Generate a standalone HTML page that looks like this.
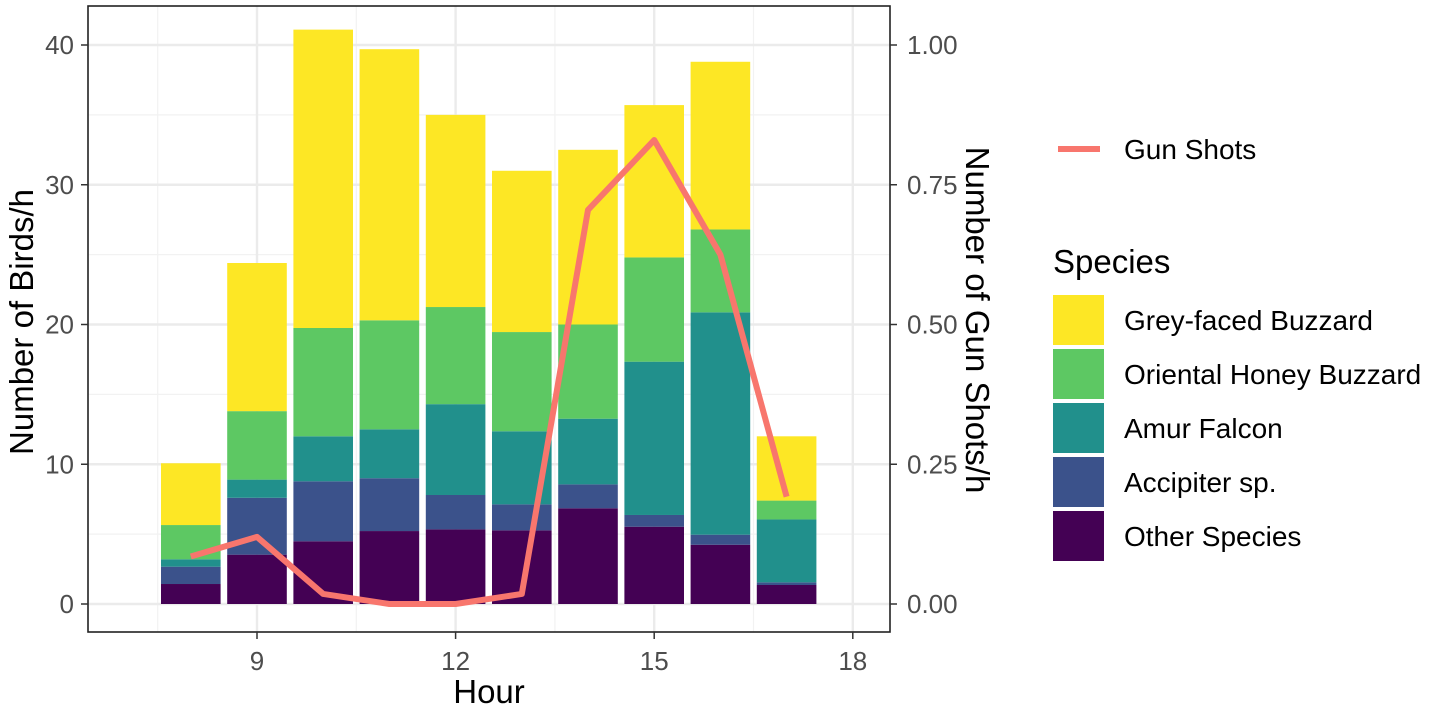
<!DOCTYPE html>
<html><head><meta charset="utf-8"><style>
body{margin:0;background:#fff;}
svg{display:block;font-family:"Liberation Sans",Arial,sans-serif;}
</style></head><body>
<svg id="chart" width="1450" height="710" viewBox="0 0 1450 710">
<g id="grid"></g>
<g id="bars"></g>
<g id="line"></g>
<rect x="88" y="6" width="802" height="626" fill="none" stroke="#222" stroke-width="1.6"/>
<g id="axes"></g>
<text x="489" y="703" font-size="33" text-anchor="middle" fill="#000">Hour</text>
<text transform="translate(33,322) rotate(-90)" font-size="33" text-anchor="middle" fill="#000">Number of Birds/h</text>
<text transform="translate(966,320) rotate(90)" font-size="33" text-anchor="middle" fill="#000">Number of Gun Shots/h</text>
<g>
<line x1="1058" y1="149" x2="1100" y2="149" stroke="#F8766D" stroke-width="6"/>
<text x="1124" y="159" font-size="28">Gun Shots</text>
<text x="1053" y="273" font-size="33">Species</text>
<g id="legend-keys"></g>
</g>
</svg>
<script>
const hours=[8,9,10,11,12,13,14,15,16,17];
const otherSpecies=[1.43,3.53,4.49,5.22,5.34,5.27,6.85,5.53,4.24,1.36];
const accipiter=[1.24,4.07,4.29,3.78,2.46,1.86,1.71,0.84,0.72,0.19];
const amurFalcon=[0.53,1.3,3.22,3.5,6.5,5.23,4.7,10.97,15.91,4.5];
const honeyBuzzard=[2.45,4.9,7.75,7.8,6.95,7.1,6.74,7.46,5.93,1.35];
const greyBuzzard=[4.42,10.6,21.35,19.4,13.75,11.54,12.5,10.9,12.0,4.6];
const gunShots=[0.085,0.12,0.018,0,0,0.018,0.705,0.83,0.625,0.192];
const yTicks=[0,10,20,30,40];
const y2Ticks=["0.00","0.25","0.50","0.75","1.00"];
const xTicks=[9,12,15,18];
const seriesNames=["Other Species","Accipiter sp.","Amur Falcon","Oriental Honey Buzzard","Grey-faced Buzzard"];
const colors=["#440154","#3B528B","#21908C","#5DC863","#FDE725"];
const NS="http://www.w3.org/2000/svg";
const X=h=>257+(h-9)*66.2;
const Y=v=>604-v*13.975;
const Y2=v=>604-v*559;
function mk(tag,attrs,parent){const e=document.createElementNS(NS,tag);for(const k in attrs)e.setAttribute(k,attrs[k]);parent.appendChild(e);return e;}
const grid=document.getElementById('grid');
for(let v=5;v<=40;v+=10){const g=mk('line',{x1:88,x2:890,y1:Y(v),y2:Y(v),stroke:'#f2f2f2','stroke-width':1.2},grid);

}
for(let h=7.5;h<=18;h+=3){const g=mk('line',{x1:X(h),x2:X(h),y1:6,y2:632,stroke:'#f2f2f2','stroke-width':1.2},grid);

}
yTicks.forEach(v=>{const g=mk('line',{x1:88,x2:890,y1:Y(v),y2:Y(v),stroke:'#ebebeb','stroke-width':2.4},grid);

});
xTicks.forEach(h=>{const g=mk('line',{x1:X(h),x2:X(h),y1:6,y2:632,stroke:'#ebebeb','stroke-width':2.4},grid);

});
const bars=document.getElementById('bars');
const series=[otherSpecies,accipiter,amurFalcon,honeyBuzzard,greyBuzzard];
hours.forEach((h,i)=>{let base=0;series.forEach((s,j)=>{const v=s[i];
const r=mk('rect',{x:X(h)-29.8,width:59.6,y:Y(base+v),height:Y(base)-Y(base+v),fill:colors[j]},bars);


base+=v;});});
const pts=hours.map((h,i)=>X(h)+','+Y2(gunShots[i])).join(' ');
const pl=mk('polyline',{points:pts,fill:'none',stroke:'#F8766D','stroke-width':6,'stroke-linejoin':'round'},document.getElementById('line'));


const axes=document.getElementById('axes');
yTicks.forEach(v=>{const t=mk('line',{x1:81,x2:88,y1:Y(v),y2:Y(v),stroke:'#333','stroke-width':1.5},axes);


const l=mk('text',{x:74,y:Y(v)+9,'font-size':26,'text-anchor':'end',fill:'#4d4d4d'},axes);l.textContent=v;

});
y2Ticks.forEach(v=>{const t=mk('line',{x1:890,x2:897,y1:Y2(+v),y2:Y2(+v),stroke:'#333','stroke-width':1.5},axes);


const l=mk('text',{x:907,y:Y2(+v)+9,'font-size':26,fill:'#4d4d4d'},axes);l.textContent=v;

});
xTicks.forEach(h=>{const t=mk('line',{x1:X(h),x2:X(h),y1:632,y2:639,stroke:'#333','stroke-width':1.5},axes);


const l=mk('text',{x:X(h),y:670,'font-size':26,'text-anchor':'middle',fill:'#4d4d4d'},axes);l.textContent=h;

});
const lk=document.getElementById('legend-keys');
const order=[4,3,2,1,0];
order.forEach((j,k)=>{const y=295+k*54;
const r=mk('rect',{x:1053,y:y,width:51,height:50,fill:colors[j]},lk);


const t=mk('text',{x:1124,y:y+35,'font-size':28},lk);t.textContent=seriesNames[j];

});
</script>
</body></html>
